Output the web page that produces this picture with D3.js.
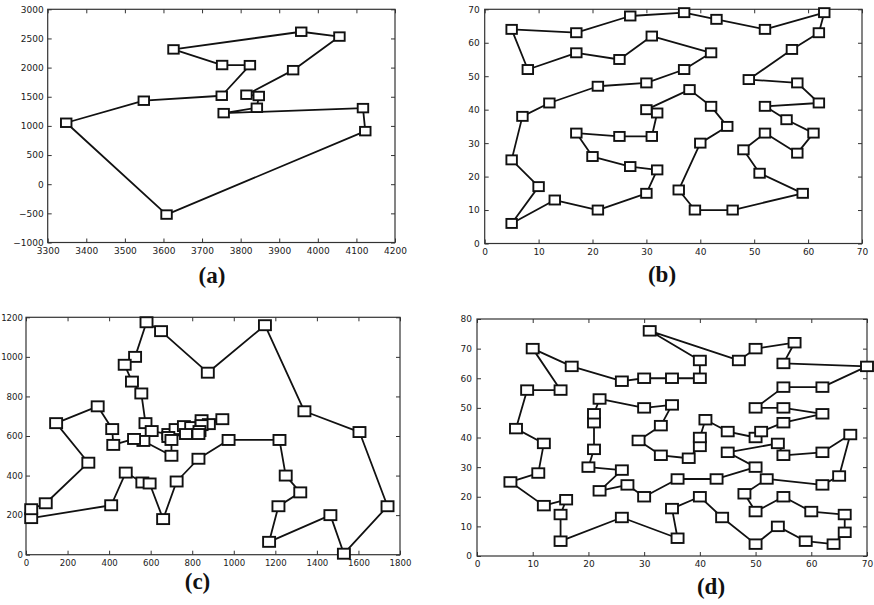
<!DOCTYPE html>
<html>
<head>
<meta charset="utf-8">
<script src="https://cdn.jsdelivr.net/npm/d3@7"></script>
<style>
  html, body { margin: 0; padding: 0; background: #fff; }
  svg { display: block; }
  .tick text { font-family: "DejaVu Sans", sans-serif; font-size: 9px; fill: #1a1a1a; }
  .tick line { stroke: #333; stroke-width: 1; }
  .panel-label { font-family: "Liberation Serif", "Times New Roman", serif; font-weight: bold; font-size: 23px; fill: #111; }
</style>
</head>
<body>
<svg id="chart" width="874" height="605"></svg>
<script>
// (a) 16-city tour, coordinates in tour order
const tourAx = [3348, 3549, 3751, 3824, 3752, 3626, 3957, 4056, 3936, 3815, 3847, 3842, 3756, 4117, 4123, 3608];
const tourAy = [1054, 1432, 1517, 2042, 2044, 2312, 2615, 2532, 1956, 1535, 1513, 1311, 1219, 1305, 910, -521];
const ticksAx = [3300, 3400, 3500, 3600, 3700, 3800, 3900, 4000, 4100, 4200];
const ticksAy = [-1000, -500, 0, 500, 1000, 1500, 2000, 2500, 3000];

// (b) 51-city tour
const tourBx = [5, 17, 27, 37, 43, 52, 63, 62, 57, 49, 58, 62, 52, 56, 61, 58, 52, 48, 51, 59, 46, 39, 36, 40, 45, 42, 38, 30, 32, 31, 25, 17, 20, 27, 32, 30, 21, 13, 5, 10, 5, 7, 12, 21, 30, 37, 42, 31, 25, 17, 8];
const tourBy = [64, 63, 68, 69, 67, 64, 69, 63, 58, 49, 48, 42, 41, 37, 33, 27, 33, 28, 21, 15, 10, 10, 16, 30, 35, 41, 46, 40, 39, 32, 32, 33, 26, 23, 22, 15, 10, 13, 6, 17, 25, 38, 42, 47, 48, 52, 57, 62, 55, 57, 52];
const ticksBx = [0, 10, 20, 30, 40, 50, 60, 70];
const ticksBy = [0, 10, 20, 30, 40, 50, 60, 70];

// (c) 52-city tour
const tourCx = [25, 410, 480, 560, 595, 660, 725, 830, 975, 1220, 1250, 1320, 1215, 1170, 1465, 1530, 1740, 1605, 1340, 1150, 875, 650, 580, 525, 475, 510, 555, 575, 605, 685, 720, 760, 795, 845, 945, 880, 845, 835, 830, 770, 685, 700, 700, 565, 520, 420, 415, 345, 145, 300, 95, 25];
const tourCy = [185, 250, 415, 365, 360, 180, 370, 485, 580, 580, 400, 315, 245, 65, 200, 5, 245, 620, 725, 1160, 920, 1130, 1175, 1000, 960, 875, 815, 665, 625, 610, 635, 650, 645, 680, 685, 660, 655, 625, 610, 610, 595, 580, 500, 575, 585, 555, 635, 750, 665, 465, 260, 230];
const ticksCx = [0, 200, 400, 600, 800, 1000, 1200, 1400, 1600, 1800];
const ticksCy = [0, 200, 400, 600, 800, 1000, 1200];

// (d) 76-city tour
const tourDx = [31, 40, 40, 35, 30, 26, 17, 10, 15, 9, 7, 12, 11, 6, 12, 16, 15, 15, 26, 36, 35, 40, 44, 50, 54, 59, 64, 66, 66, 60, 55, 50, 48, 52, 62, 65, 67, 62, 55, 54, 45, 50, 43, 36, 30, 27, 22, 26, 20, 21, 21, 21, 22, 30, 35, 33, 29, 33, 38, 40, 40, 41, 45, 50, 51, 55, 62, 55, 50, 55, 62, 70, 55, 57, 50, 47];
const tourDy = [76, 66, 60, 60, 60, 59, 64, 70, 56, 56, 43, 38, 28, 25, 17, 19, 14, 5, 13, 6, 16, 20, 13, 4, 10, 5, 4, 8, 14, 15, 20, 15, 21, 26, 24, 27, 41, 35, 34, 38, 35, 30, 26, 26, 20, 24, 22, 29, 30, 36, 45, 48, 53, 50, 51, 44, 39, 34, 33, 37, 40, 46, 42, 40, 42, 45, 48, 50, 50, 57, 57, 64, 65, 72, 70, 66];
const ticksDx = [0, 10, 20, 30, 40, 50, 60, 70];
const ticksDy = [0, 10, 20, 30, 40, 50, 60, 70, 80];

const panels = [
  { xs: tourAx, ys: tourAy, tx: ticksAx, ty: ticksAy, left: 47.7, right: 395, top: 9.3, bottom: 242.5,
    label: "(a)", lx: 212, ly: 283, mw: 10.5, mh: 8.5, fs: 9, padL: 4 },
  { xs: tourBx, ys: tourBy, tx: ticksBx, ty: ticksBy, left: 484.7, right: 862, top: 9.3, bottom: 243.5,
    label: "(b)", lx: 662, ly: 282, mw: 10.5, mh: 9, fs: 9, padL: 5 },
  { xs: tourCx, ys: tourCy, tx: ticksCx, ty: ticksCy, left: 26, right: 400, top: 317.3, bottom: 554.7,
    label: "(c)", lx: 197.5, ly: 589, mw: 12, mh: 10, fs: 8.6, padL: 3 },
  { xs: tourDx, ys: tourDy, tx: ticksDx, ty: ticksDy, left: 477, right: 867, top: 319, bottom: 556,
    label: "(d)", lx: 711, ly: 594, mw: 12, mh: 9.5, fs: 9, padL: 5 }
];

const svg = d3.select("#chart");
const fmt = d3.format("d");

panels.forEach(p => {
  const x = d3.scaleLinear().domain(d3.extent(p.tx)).range([p.left, p.right]);
  const y = d3.scaleLinear().domain(d3.extent(p.ty)).range([p.bottom, p.top]);
  const g = svg.append("g");

  // axes with inward ticks on all four sides
  const tk = 4;
  g.append("g").attr("transform", `translate(0,${p.bottom})`)
    .call(d3.axisBottom(x).tickValues(p.tx).tickFormat(fmt).tickSizeInner(-tk).tickSizeOuter(0).tickPadding(5))
    .call(a => a.select(".domain").remove())
    .call(a => a.selectAll("text").style("font-size", p.fs + "px"));
  g.append("g").attr("transform", `translate(${p.left},0)`)
    .call(d3.axisLeft(y).tickValues(p.ty).tickFormat(fmt).tickSizeInner(-tk).tickSizeOuter(0).tickPadding(p.padL))
    .call(a => a.select(".domain").remove())
    .call(a => a.selectAll("text").style("font-size", p.fs + "px"));
  g.append("g").attr("transform", `translate(0,${p.top})`)
    .call(d3.axisTop(x).tickValues(p.tx).tickSizeInner(-tk).tickSizeOuter(0).tickFormat(""))
    .call(a => a.select(".domain").remove());
  g.append("g").attr("transform", `translate(${p.right},0)`)
    .call(d3.axisRight(y).tickValues(p.ty).tickSizeInner(-tk).tickSizeOuter(0).tickFormat(""))
    .call(a => a.select(".domain").remove());

  g.append("rect")
    .attr("x", p.left).attr("y", p.top)
    .attr("width", p.right - p.left).attr("height", p.bottom - p.top)
    .attr("fill", "none").attr("stroke", "#333").attr("stroke-width", 1.2);

  // closed tour
  const pts = p.xs.map((v, i) => [x(v), y(p.ys[i])]);
  g.append("path")
    .attr("d", d3.line()(pts) + "Z")
    .attr("fill", "none").attr("stroke", "#111").attr("stroke-width", 1.8)
    .attr("stroke-linejoin", "round");

  // city markers
  g.selectAll("rect.city").data(pts).join("rect")
    .attr("class", "city")
    .attr("x", d => d[0] - p.mw / 2).attr("y", d => d[1] - p.mh / 2)
    .attr("width", p.mw).attr("height", p.mh)
    .attr("fill", "#fff").attr("stroke", "#111").attr("stroke-width", 1.9);

  g.append("text").attr("class", "panel-label")
    .attr("x", p.lx).attr("y", p.ly).attr("text-anchor", "middle")
    .text(p.label);
});
</script>
</body>
</html>
